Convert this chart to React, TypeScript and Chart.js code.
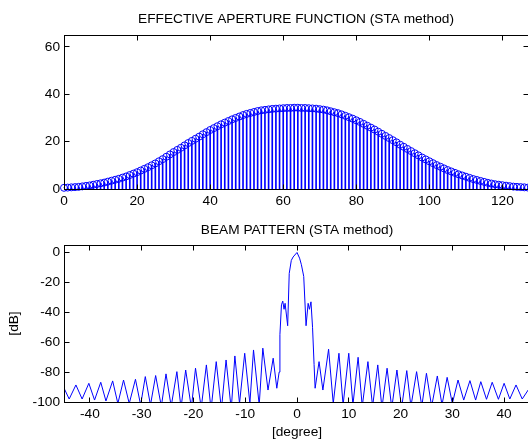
import { useEffect, useRef } from 'react';
import { Chart, registerables } from 'chart.js';

Chart.register(...registerables);

// ---------- data ----------
const apertureValues = [
  0.5, 0.6, 0.7, 0.8, 0.9, 1.1, 1.3, 1.5, 1.8, 2.1,
  2.4, 2.7, 3.1, 3.5, 3.9, 4.3, 4.8, 5.3, 5.9, 6.5,
  7.1, 7.8, 8.5, 9.2, 10.0, 10.8, 11.7, 12.6, 13.6, 14.6,
  15.6, 16.5, 17.4, 18.4, 19.4, 20.3, 21.2, 22.1, 23.1, 24.0,
  24.9, 25.7, 26.5, 27.3, 28.0, 28.7, 29.4, 30.0, 30.6, 31.2,
  31.7, 32.1, 32.5, 32.9, 33.2, 33.4, 33.6, 33.8, 33.9, 34.0,
  34.1, 34.2, 34.2, 34.3, 34.3, 34.2, 34.2, 34.1, 34.0, 33.9,
  33.7, 33.5, 33.2, 32.8, 32.4, 32.0, 31.5, 30.9, 30.3, 29.7,
  29.0, 28.3, 27.5, 26.7, 25.9, 25.1, 24.2, 23.3, 22.4, 21.5,
  20.6, 19.7, 18.7, 17.8, 16.9, 16.0, 15.1, 14.2, 13.3, 12.5,
  11.7, 10.9, 10.1, 9.4, 8.7, 8.0, 7.4, 6.8, 6.2, 5.7,
  5.2, 4.7, 4.2, 3.8, 3.4, 3.0, 2.6, 2.3, 2.0, 1.8,
  1.6, 1.4, 1.2, 1.0, 0.9, 0.8, 0.7, 0.6,
];
const apertureXTicks = [0, 20, 40, 60, 80, 100, 120];
const apertureYTicks = [0, 20, 40, 60];

const beamAngles = [
  -45.3, -44.0, -42.7, -41.5, -40.2, -39.1, -37.9, -36.9, -35.6, -34.6,
  -33.5, -32.4, -31.2, -30.2, -29.3, -28.3, -27.3, -26.2, -25.3, -24.3,
  -23.2, -22.4, -21.5, -20.4, -19.6, -18.5, -17.5, -16.6, -15.6, -14.6,
  -13.7, -12.7, -12.0, -11.1, -10.1, -9.1, -8.4, -7.3, -6.6, -5.6,
  -4.6, -3.9, -3.45, -3.3, -3.0, -2.75, -2.5, -2.3, -1.8, -1.5,
  -1.1, -0.75, 0, 0.5, 0.85, 1.3, 1.75, 2.15, 2.4, 2.7,
  3.0, 3.3, 3.5, 4.26, 5.0, 6.1, 7.0, 8.1, 8.9, 10.0,
  10.8, 11.8, 12.6, 13.7, 14.6, 15.6, 16.4, 17.4, 18.3, 19.3,
  20.2, 21.2, 22.0, 23.1, 24.1, 25.0, 26.0, 27.1, 28.0, 29.0,
  30.0, 31.1, 32.2, 33.4, 34.5, 35.5, 36.6, 37.7, 38.9, 40.0,
  41.1, 42.3, 43.5, 45.6,
];
const beamDb = [
  -88.5, -98, -88.6, -98, -87.5, -98.7, -86.8, -99.3, -85.9, -101,
  -85.3, -101, -84.8, -102, -83, -102, -82.3, -103, -81.2, -103,
  -79.7, -104, -78.6, -104, -77.4, -104, -75.2, -105, -73, -105,
  -71.9, -105, -69.2, -101, -67.4, -101, -65.2, -102, -64, -92,
  -70.7, -90.8, -80, -55, -35, -32.5, -38, -34, -49, -14,
  -5.3, -3, 0, -3.8, -8.2, -16, -49, -34, -38, -33,
  -50, -75, -90.8, -73, -92, -64.7, -101, -67.4, -102, -67.4,
  -102, -70.1, -103, -73, -103, -75.2, -104, -77.4, -104, -78.6,
  -104, -79, -103, -79.7, -103, -80.8, -103, -82.6, -102, -83.5,
  -101, -85.3, -98.7, -85.7, -98.7, -86.4, -98.2, -86.8, -98.2, -87.5,
  -98, -88.6, -98, -87,
];
const beamXTicks = [-40, -30, -20, -10, 0, 10, 20, 30, 40];
const beamYTicks = [-100, -80, -60, -40, -20, 0];

const apertureTitle = 'EFFECTIVE APERTURE FUNCTION (STA method)';
const beamTitle = 'BEAM PATTERN (STA method)';
const beamXLabel = '[degree]';
const beamYLabel = '[dB]';

// ---------- style ----------
const FONT = '"Liberation Sans", Arial, Helvetica, sans-serif';
const FONT_SIZE = 13.7;
const BLUE = '#0000ff';
const CANVAS_W = 540;
const PANEL_H = 221;

const matlabAxes = {
  id: 'matlabAxes',
  afterDraw(chart: any, _args: any, opts: any) {
    const { ctx, chartArea: a } = chart;
    const xs = chart.scales.x;
    const ys = chart.scales.y;
    const L = Math.floor(a.left) + 0.5;
    const R = Math.floor(a.right) + 0.5;
    const T = Math.floor(a.top) + 0.5;
    const B = Math.floor(a.bottom) + 0.5;
    const len = opts.tickLen ?? 5;
    ctx.save();
    ctx.strokeStyle = '#000';
    ctx.lineWidth = 1;
    ctx.strokeRect(L, T, R - L, B - T);
    ctx.beginPath();
    xs.ticks.forEach((t: any) => {
      const p = Math.floor(xs.getPixelForValue(t.value)) + 0.5;
      ctx.moveTo(p, B);
      ctx.lineTo(p, B - len);
      ctx.moveTo(p, T);
      ctx.lineTo(p, T + len);
    });
    ys.ticks.forEach((t: any) => {
      const p = Math.floor(ys.getPixelForValue(t.value)) + 0.5;
      ctx.moveTo(L, p);
      ctx.lineTo(L + len, p);
      ctx.moveTo(R, p);
      ctx.lineTo(R - len, p);
    });
    ctx.stroke();

    ctx.fillStyle = '#000';
    ctx.font = `${FONT_SIZE}px ${FONT}`;
    ctx.textAlign = 'center';
    ctx.textBaseline = 'middle';
    const cx = (a.left + a.right) / 2;
    if (opts.title) ctx.fillText(opts.title, cx, opts.titleY);
    if (opts.xLabel) ctx.fillText(opts.xLabel, cx, opts.xLabelY);
    if (opts.yLabel) {
      ctx.translate(opts.yLabelX, (a.top + a.bottom) / 2);
      ctx.rotate(-Math.PI / 2);
      ctx.fillText(opts.yLabel, 0, 0);
    }
    ctx.restore();
  },
};

function axisCommon(ticksList: number[], isX: boolean, size: number) {
  return {
    type: 'linear' as const,
    offset: false,
    grid: { display: false, drawTicks: false },
    border: { display: false },
    afterFit: (s: any) => {
      if (isX) s.height = size;
      else s.width = size;
    },
    afterBuildTicks: (s: any) => {
      s.ticks = ticksList.map((v) => ({ value: v }));
    },
    ticks: {
      padding: 4,
      color: '#000',
      font: { family: FONT, size: FONT_SIZE },
      maxRotation: 0,
      autoSkip: false,
      callback: (v: any) => String(v),
    },
  };
}

export default function App() {
  const topRef = useRef<HTMLCanvasElement>(null);
  const botRef = useRef<HTMLCanvasElement>(null);

  useEffect(() => {
    const points = apertureValues.map((v, i) => ({ x: i, y: v }));
    const top = new Chart(topRef.current as HTMLCanvasElement, {
      type: 'bar',
      data: {
        datasets: [
          {
            type: 'line',
            data: points,
            showLine: false,
            pointRadius: 3.5,
            pointBorderWidth: 1,
            pointBorderColor: BLUE,
            pointBackgroundColor: 'rgba(0,0,0,0)',
            clip: false,
          } as any,
          {
            type: 'bar',
            data: points,
            backgroundColor: BLUE,
            borderWidth: 0,
            barThickness: 1,
          } as any,
        ],
      },
      options: {
        responsive: false,
        animation: false,
        devicePixelRatio: 1,
        events: [],
        layout: { padding: { top: 35, right: CANVAS_W - 528, left: 0, bottom: 0 } },
        scales: {
          x: { ...axisCommon(apertureXTicks, true, PANEL_H - 189), min: 0, max: 127 },
          y: { ...axisCommon(apertureYTicks, false, 64), min: 0, max: 65 },
        },
        plugins: {
          legend: { display: false },
          tooltip: { enabled: false },
          matlabAxes: { title: apertureTitle, titleY: 19, tickLen: 5 },
        } as any,
      },
      plugins: [matlabAxes],
    });

    const bot = new Chart(botRef.current as HTMLCanvasElement, {
      type: 'line',
      data: {
        datasets: [
          {
            data: beamAngles.map((a, i) => ({ x: a, y: beamDb[i] })),
            borderColor: BLUE,
            borderWidth: 1,
            pointRadius: 0,
            tension: 0,
            fill: false,
          },
        ],
      },
      options: {
        responsive: false,
        animation: false,
        devicePixelRatio: 1,
        events: [],
        layout: { padding: { top: 24, right: CANVAS_W - 530, left: 0, bottom: 0 } },
        scales: {
          x: { ...axisCommon(beamXTicks, true, PANEL_H - 181), min: -45, max: 45 },
          y: { ...axisCommon(beamYTicks, false, 64), min: -100, max: 5 },
        },
        plugins: {
          legend: { display: false },
          tooltip: { enabled: false },
          matlabAxes: {
            title: beamTitle,
            titleY: 9.5,
            xLabel: beamXLabel,
            xLabelY: 211,
            yLabel: beamYLabel,
            yLabelX: 14.5,
            tickLen: 5,
          },
        } as any,
      },
      plugins: [matlabAxes],
    });

    return () => {
      top.destroy();
      bot.destroy();
    };
  }, []);

  return (
    <div
      style={{
        position: 'absolute',
        left: 0,
        top: 0,
        width: 528,
        height: 442,
        overflow: 'hidden',
        background: '#fff',
      }}
    >
      <canvas
        ref={topRef}
        width={CANVAS_W}
        height={PANEL_H}
        style={{ position: 'absolute', left: 0, top: 0, width: CANVAS_W, height: PANEL_H }}
      />
      <canvas
        ref={botRef}
        width={CANVAS_W}
        height={PANEL_H}
        style={{ position: 'absolute', left: 0, top: PANEL_H, width: CANVAS_W, height: PANEL_H }}
      />
    </div>
  );
}
